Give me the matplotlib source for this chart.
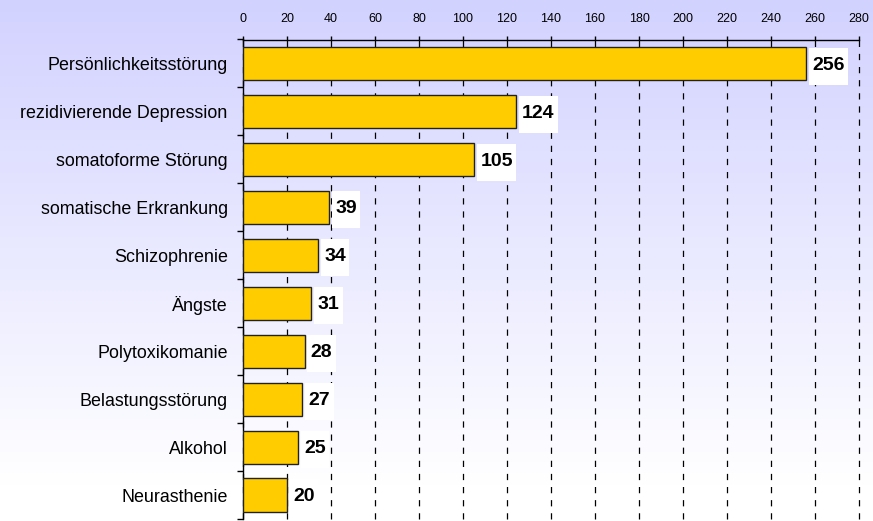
import numpy as np
import matplotlib
matplotlib.use("Agg")
import matplotlib.pyplot as plt
from matplotlib.path import Path

plt.rcParams['font.family'] = ['Liberation Sans', 'DejaVu Sans']

# Daten
kategorien = ["Persönlichkeitsstörung", "rezidivierende Depression", "somatoforme Störung",
              "somatische Erkrankung", "Schizophrenie", "Ängste", "Polytoxikomanie",
              "Belastungsstörung", "Alkohol", "Neurasthenie"]
werte = [256, 124, 105, 39, 34, 31, 28, 27, 25, 20]
x_ticks = list(range(0, 281, 20))


def label_box(x0, y0, width, height, mutation_size):
    # weisser Kasten: schmal links/rechts, feste Hoehe (Pixel)
    px = 3.5
    h = 37.0
    cy = y0 + height / 2 - 1.0
    l, r = x0 - px, x0 + width + px
    b, t = cy - h / 2, cy + h / 2
    return Path([(l, b), (r, b), (r, t), (l, t), (l, b)],
                [Path.MOVETO, Path.LINETO, Path.LINETO, Path.LINETO, Path.CLOSEPOLY])


fig = plt.figure(figsize=(8.73, 5.21), dpi=100)

# Hintergrund-Verlauf (oben lavendel, unten weiss)
bg = fig.add_axes([0, 0, 1, 1], zorder=0)
n = 256
t = np.clip(np.linspace(0, 1, n) / 0.93, 0, 1)
top = np.array([210, 210, 255]) / 255.0
grad = top[None, :] * (1 - t[:, None]) + np.ones(3)[None, :] * t[:, None]
grad = np.repeat(grad[:, None, :], 2, axis=1)
bg.imshow(grad, aspect='auto', extent=[0, 1, 0, 1], origin='upper')
bg.axis('off')

ax = fig.add_axes([243 / 873, 1 - 519 / 521, 616 / 873, 479.5 / 521], zorder=1)
ax.patch.set_alpha(0)

y = np.arange(len(kategorien))
ax.barh(y, werte, height=0.69, color='#FFCC00', edgecolor='#222222', linewidth=1.0, zorder=3)

for yi, v in zip(y, werte):
    ax.annotate(str(v), xy=(v, yi), xytext=(4.5, -1.2), textcoords='offset points',
                ha='left', va='center', fontsize=14, fontweight='bold', zorder=4,
                bbox=dict(boxstyle=label_box, facecolor='white', edgecolor='none'))

ax.set_xlim(0, 280)
ax.set_ylim(len(kategorien) - 0.5, -0.5)
ax.xaxis.tick_top()
ax.set_xticks(x_ticks)
ax.tick_params(axis='x', labelsize=9, length=3, width=1, pad=7.5, colors='black')
ax.grid(axis='x', color='black', linestyle=(0, (5, 5.5)), linewidth=0.9, zorder=1)
for gl in ax.get_xgridlines():
    gl.set_clip_on(False)

ax.set_yticks(y)
ax.set_yticklabels(kategorien, fontsize=12.9)
ax.tick_params(axis='y', which='major', length=0, pad=11)
ax.set_yticks(np.arange(-0.5, len(kategorien) + 0.5, 1), minor=True)
ax.tick_params(axis='y', which='minor', length=4.5, width=1)

for s in ['right', 'bottom']:
    ax.spines[s].set_visible(False)
ax.spines['top'].set_linewidth(1)
ax.spines['left'].set_linewidth(1)
ax.set_axisbelow(True)

fig.savefig("out.png", dpi=100)
plt.close(fig)
